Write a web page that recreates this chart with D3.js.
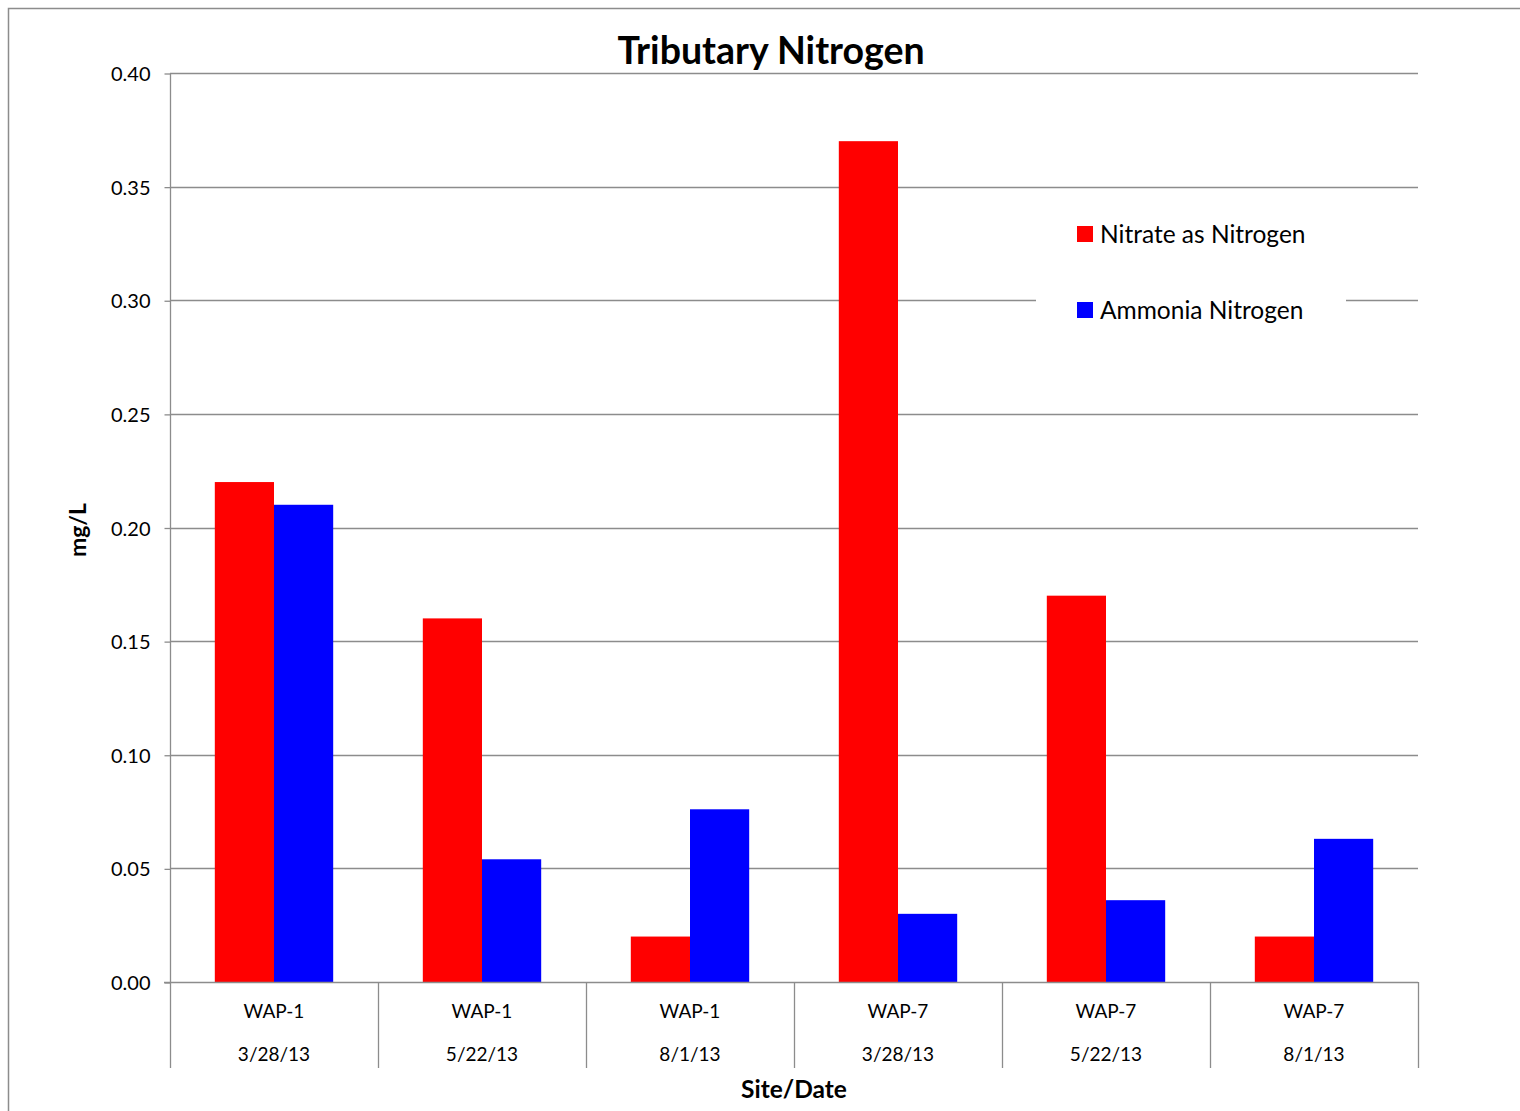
<!DOCTYPE html>
<html>
<head>
<meta charset="utf-8">
<script src="https://cdn.jsdelivr.net/npm/d3@7/dist/d3.min.js"></script>
<style>
  html, body { margin: 0; padding: 0; background: #fff; }
  svg { display: block; }
  text { font-family: Lato, "Open Sans", "Liberation Sans", sans-serif; fill: #000; }
</style>
</head>
<body>
<svg id="chart" width="1520" height="1111"></svg>
<script>
const sites = ["WAP-1", "WAP-1", "WAP-1", "WAP-7", "WAP-7", "WAP-7"];
const dates = ["3/28/13", "5/22/13", "8/1/13", "3/28/13", "5/22/13", "8/1/13"];
const seriesNames = ["Nitrate as Nitrogen", "Ammonia Nitrogen"];
const nitrate = [0.22, 0.16, 0.02, 0.37, 0.17, 0.02];
const ammonia = [0.21, 0.054, 0.076, 0.03, 0.036, 0.063];
const yTicks = [0, 0.05, 0.10, 0.15, 0.20, 0.25, 0.30, 0.35, 0.40];
const colors = ["#ff0000", "#0000ff"];

(function () {
const svg = d3.select("#chart");
const pLeft = 170, pRight = 1418, pTop = 73, pBottom = 982;
const gridColor = "#8c8c8c";

// outer chart border
svg.append("rect").attr("x", 8.5).attr("y", 8.5).attr("width", 1530).attr("height", 1120)
  .attr("fill", "#fff").attr("stroke", "#8c8c8c").attr("stroke-width", 1.5);

const cats = d3.range(sites.length);
const x = d3.scaleBand().domain(cats).range([pLeft, pRight]).paddingInner(0).paddingOuter(0);
const inner = d3.scaleBand().domain([0, 1]).range([0, x.bandwidth()]).paddingOuter(0.757).paddingInner(0);
const y = d3.scaleLinear().domain([0, 0.40]).range([pBottom, pTop]);

// gridlines
svg.append("g").selectAll("line").data(yTicks.filter(d => d > 0)).join("line")
  .attr("x1", pLeft).attr("x2", pRight)
  .attr("y1", d => Math.round(y(d)) + 0.5).attr("y2", d => Math.round(y(d)) + 0.5)
  .attr("stroke", gridColor).attr("stroke-width", 1.3);

// y axis
const yAxis = d3.axisLeft(y).tickValues(yTicks).tickFormat(d3.format(".2f")).tickSize(6).tickPadding(14);
const yg = svg.append("g").attr("transform", `translate(${pLeft + 0.5},0.5)`).call(yAxis);
yg.select(".domain").attr("stroke", gridColor).attr("stroke-width", 1.3).attr("d", `M0,${pTop}V${pBottom}`);
yg.selectAll(".tick line").attr("stroke", gridColor).attr("stroke-width", 1.3);
yg.selectAll(".tick text").attr("font-size", 20).attr("font-family", "Lato, 'Open Sans', sans-serif").attr("dy", "0.35em");

// bars
const data = cats.map(i => [nitrate[i], ammonia[i]]);
const groups = svg.append("g").selectAll("g").data(data).join("g")
  .attr("transform", (d, i) => `translate(${x(i)},0)`);
groups.selectAll("rect").data(d => d.map((v, k) => ({ v, k }))).join("rect")
  .attr("x", d => inner(d.k))
  .attr("width", inner.bandwidth())
  .attr("y", d => y(d.v))
  .attr("height", d => y(0) - y(d.v))
  .attr("fill", d => colors[d.k]);

// x axis (category, with separators)
const xg = svg.append("g");
xg.append("line").attr("x1", pLeft - 6).attr("x2", pRight).attr("y1", pBottom + 0.5).attr("y2", pBottom + 0.5)
  .attr("stroke", gridColor).attr("stroke-width", 1.3);
const seps = cats.map(i => x(i)).concat([pRight]);
xg.selectAll("line.sep").data(seps).join("line").attr("class", "sep")
  .attr("x1", d => d + 0.5).attr("x2", d => d + 0.5).attr("y1", pBottom).attr("y2", 1068)
  .attr("stroke", gridColor).attr("stroke-width", 1.3);
xg.selectAll("text.site").data(cats).join("text").attr("class", "site")
  .attr("x", i => x(i) + x.bandwidth() / 2).attr("y", 1018)
  .attr("text-anchor", "middle").attr("font-size", 19).text(i => sites[i]);
xg.selectAll("text.date").data(cats).join("text").attr("class", "date")
  .attr("x", i => x(i) + x.bandwidth() / 2).attr("y", 1061)
  .attr("text-anchor", "middle").attr("font-size", 19).text(i => dates[i]);

// legend
const lg = svg.append("g");
lg.append("rect").attr("x", 1036).attr("y", 205).attr("width", 310).attr("height", 125).attr("fill", "#fff");
seriesNames.forEach((name, k) => {
  const cy = 234 + k * 76;
  lg.append("rect").attr("x", 1077).attr("y", cy - 8).attr("width", 16).attr("height", 16).attr("fill", colors[k]);
  lg.append("text").attr("x", 1100).attr("y", cy).attr("dy", "0.36em").attr("font-size", 24.5).text(name);
});

// titles
svg.append("text").attr("x", 771).attr("y", 64).attr("text-anchor", "middle")
  .attr("font-size", 37.5).attr("font-weight", "bold").text("Tributary Nitrogen");
svg.append("text").attr("transform", "translate(86,530) rotate(-90)").attr("text-anchor", "middle")
  .attr("font-size", 23).attr("font-weight", "bold").text("mg/L");
svg.append("text").attr("x", 794).attr("y", 1098).attr("text-anchor", "middle")
  .attr("font-size", 24.5).attr("font-weight", "bold").text("Site/Date");
})();
</script>
</body>
</html>
